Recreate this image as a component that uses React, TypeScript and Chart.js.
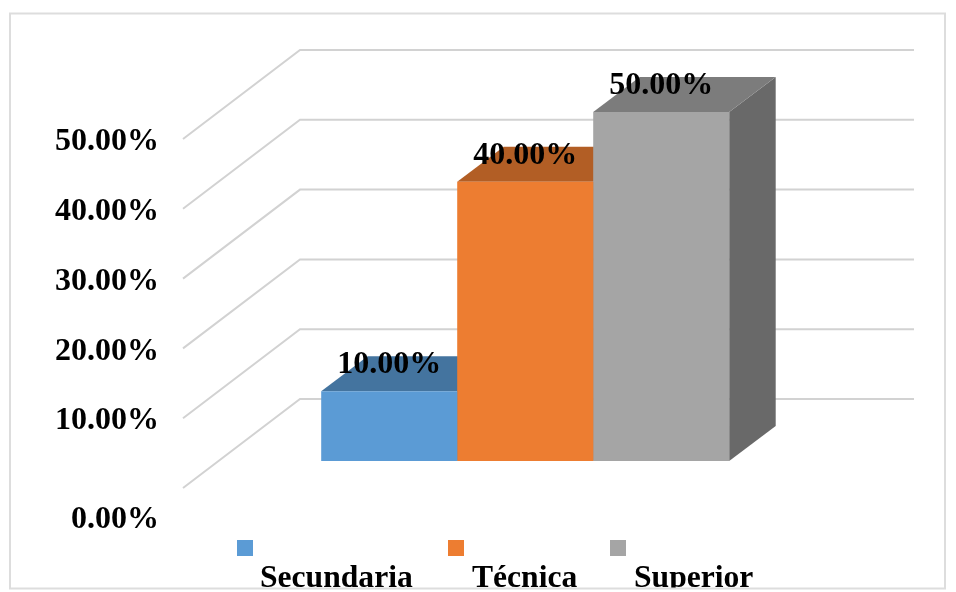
import { useEffect, useRef } from "react";
import { Chart, registerables } from "chart.js";

Chart.register(...registerables);

const categories = [""];
const seriesNames = ["Secundaria", "Técnica", "Superior"];
const secundaria = [10];
const tecnica = [40];
const superior = [50];
const frontColors = ["#5B9BD5", "#ED7D31", "#A5A5A5"];
const topColors = ["#44749F", "#B25E25", "#7C7C7C"];
const sideColors = ["#3A6591", "#9E5320", "#696969"];

const SERIF = '"Liberation Serif", "Times New Roman", serif';
const GRID = "#D2D2D2";

// Projection of the 3D box: the wall sits behind the axis plane, bars halfway in between.
const WALL_DX = 117;
const WALL_DY = -89;
const BAR_SHIFT_X = 35.2;
const BAR_SHIFT_Y = -27;
const BAR_DEPTH_X = 46.5;
const BAR_DEPTH_Y = -35;

const legendSlots = [
  { box: 237, text: 260 },
  { box: 448, text: 472 },
  { box: 610, text: 634 },
];

const fmt = (v: number) => `${v.toFixed(2)}%`;

function polygon(ctx: CanvasRenderingContext2D, pts: number[][], fill: string) {
  ctx.beginPath();
  pts.forEach(([x, y], i) => (i ? ctx.lineTo(x, y) : ctx.moveTo(x, y)));
  ctx.closePath();
  ctx.fillStyle = fill;
  ctx.fill();
}

const box3d = {
  id: "box3d",
  beforeDatasetsDraw(chart: any) {
    const { ctx, chartArea } = chart;
    const y = chart.scales.y;

    // Side wall diagonals and back wall lines.
    ctx.save();
    ctx.strokeStyle = GRID;
    ctx.lineWidth = 2;
    y.ticks.forEach((t: any) => {
      const py = y.getPixelForValue(t.value);
      ctx.beginPath();
      ctx.moveTo(chartArea.left, py);
      ctx.lineTo(chartArea.left + WALL_DX, py + WALL_DY);
      ctx.lineTo(chartArea.right + WALL_DX, py + WALL_DY);
      ctx.stroke();
    });
    ctx.restore();

    // Top and side faces, then the bar fronts get drawn over them by the library.
    ctx.save();
    ctx.translate(BAR_SHIFT_X, BAR_SHIFT_Y);
    chart.data.datasets.forEach((_: any, i: number) => {
      const bar = chart.getDatasetMeta(i).data[0];
      const l = bar.x - bar.width / 2;
      const r = bar.x + bar.width / 2;
      polygon(ctx, [[r, bar.y], [r + BAR_DEPTH_X, bar.y + BAR_DEPTH_Y], [r + BAR_DEPTH_X, bar.base + BAR_DEPTH_Y], [r, bar.base]], sideColors[i]);
      polygon(ctx, [[l, bar.y], [l + BAR_DEPTH_X, bar.y + BAR_DEPTH_Y], [r + BAR_DEPTH_X, bar.y + BAR_DEPTH_Y], [r, bar.y]], topColors[i]);
    });
  },
  afterDatasetsDraw(chart: any) {
    const { ctx } = chart;
    ctx.restore();

    // Value labels, resting on the top face of each bar.
    ctx.save();
    ctx.font = `bold 32px ${SERIF}`;
    ctx.fillStyle = "#000";
    ctx.textAlign = "center";
    ctx.textBaseline = "middle";
    chart.data.datasets.forEach((ds: any, i: number) => {
      const bar = chart.getDatasetMeta(i).data[0];
      ctx.fillText(fmt(ds.data[0]), bar.x + BAR_SHIFT_X, bar.y + BAR_SHIFT_Y - 26);
    });
    ctx.restore();
  },
  afterDraw(chart: any) {
    const { ctx } = chart;
    ctx.save();
    // Legend: marker on one row, its name wrapped onto the next.
    ctx.beginPath();
    ctx.rect(0, 0, chart.width, 588);
    ctx.clip();
    ctx.font = `bold 31.6px ${SERIF}`;
    ctx.textAlign = "left";
    ctx.textBaseline = "alphabetic";
    chart.data.datasets.forEach((ds: any, i: number) => {
      ctx.fillStyle = ds.backgroundColor;
      ctx.fillRect(legendSlots[i].box, 540, 16, 16);
      ctx.fillStyle = "#000";
      ctx.fillText(ds.label, legendSlots[i].text, 587);
    });
    ctx.restore();

    // Chart frame.
    ctx.save();
    ctx.strokeStyle = "#DDDDDD";
    ctx.lineWidth = 2;
    ctx.strokeRect(10, 13.5, 935, 575);
    ctx.restore();
  },
};

export default function App() {
  const ref = useRef<HTMLCanvasElement>(null);

  useEffect(() => {
    const chart = new Chart(ref.current!, {
      type: "bar",
      data: {
        labels: categories,
        datasets: [secundaria, tecnica, superior].map((data, i) => ({
          label: seriesNames[i],
          data,
          backgroundColor: frontColors[i],
          borderWidth: 0,
          barPercentage: 1,
          categoryPercentage: 0.6645,
        })),
      },
      options: {
        animation: false,
        responsive: false,
        layout: { padding: { left: 0, right: 159, top: 139, bottom: 104 } },
        plugins: { legend: { display: false }, tooltip: { enabled: false } },
        scales: {
          x: { display: false },
          y: {
            min: 0,
            max: 50,
            afterFit(scale: any) {
              scale.width = 183;
            },
            border: { display: false },
            grid: { display: false },
            ticks: {
              stepSize: 10,
              autoSkip: false,
              padding: 16,
              labelOffset: 3,
              color: "#000",
              // The zero label sits lower than the rest: a blank first line pushes it down.
              callback: (v: any) => (v === 0 ? ["", fmt(0)] : fmt(Number(v))),
              font: (ctx: any) => ({
                family: SERIF,
                size: 32,
                weight: "bold",
                lineHeight: ctx.tick && ctx.tick.value === 0 ? "58px" : 1.2,
              }),
            },
          },
        },
      },
      plugins: [box3d],
    } as any);
    return () => chart.destroy();
  }, []);

  return (
    <canvas
      ref={ref}
      width={956}
      height={592}
      style={{ position: "fixed", left: 0, top: 0, display: "block" }}
    />
  );
}
